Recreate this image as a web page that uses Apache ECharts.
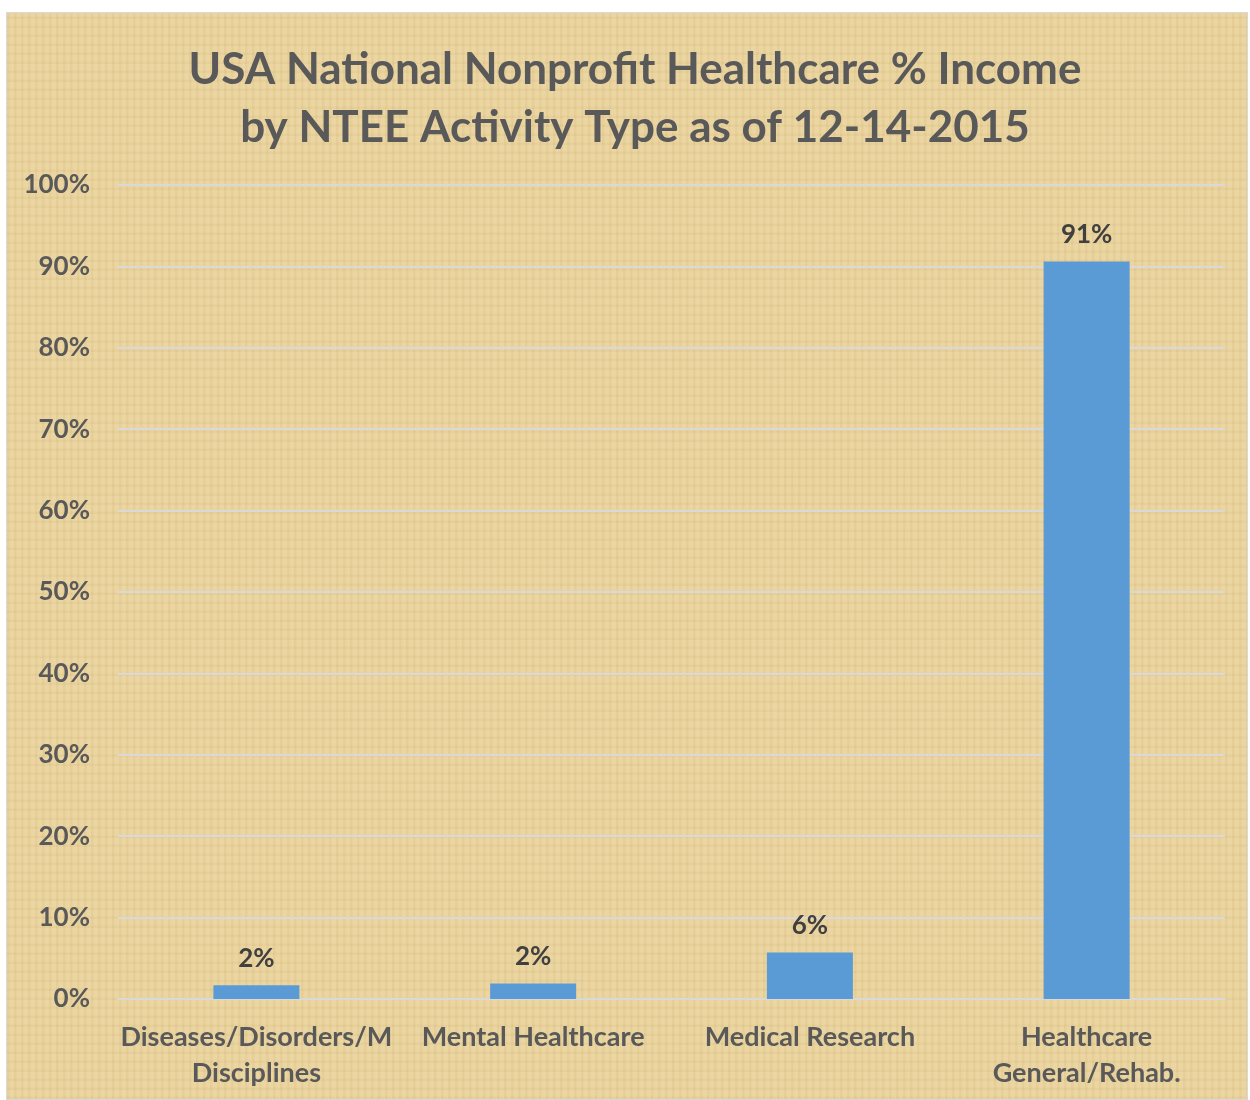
<!DOCTYPE html>
<html>
<head>
<meta charset="utf-8">
<script src="https://cdn.jsdelivr.net/npm/echarts@6/dist/echarts.min.js"></script>
<style>
html,body{margin:0;padding:0;background:#fff;}
#frame{position:absolute;left:6px;top:12px;width:1242px;height:1088px;border:1px solid #d9d9d9;box-sizing:border-box;
background-color:#E9D29C;
background-image:
 repeating-linear-gradient(90deg, rgba(160,120,40,0.06) 0px, rgba(160,120,40,0.06) 2px, rgba(255,245,215,0.06) 3px, rgba(255,245,215,0.06) 7px),
 repeating-linear-gradient(0deg, rgba(160,120,40,0.05) 0px, rgba(160,120,40,0.05) 2px, rgba(255,245,215,0.05) 3px, rgba(255,245,215,0.05) 9px);}
#chart{position:absolute;left:0;top:0;width:1250px;height:1100px;}
</style>
</head>
<body>
<div id="frame"></div>
<div id="chart"></div>
<script>
const categories = ["Diseases/Disorders/M\nDisciplines", "Mental Healthcare", "Medical Research", "Healthcare\nGeneral/Rehab."];
const values = [1.7, 1.9, 5.7, 90.6];
const valueLabels = ["2%", "2%", "6%", "91%"];
const titleLines = ["USA National Nonprofit Healthcare % Income", "by NTEE Activity Type as of 12-14-2015"];

const chart = echarts.init(document.getElementById('chart'), null, {renderer:'canvas'});
const font = 'Lato, "Open Sans", sans-serif';
chart.setOption({
  backgroundColor: 'transparent',
  animation: false,
  title: {
    text: titleLines.join('\n'),
    left: 630, top: 36, textAlign: 'center',
    textStyle: {fontFamily: font, fontWeight: 'bold', fontSize: 44, color: '#595959', lineHeight: 58}
  },
  grid: {left: 118, right: 25, top: 185, bottom: 101},
  xAxis: {
    type: 'category', data: categories,
    axisTick: {show: false},
    axisLine: {show: true, lineStyle: {color: '#d9d9d9', width: 2}},
    axisLabel: {fontFamily: font, fontWeight: 'bold', fontSize: 27, color: '#595959', lineHeight: 36, margin: 20, interval: 0}
  },
  yAxis: {
    type: 'value', min: 0, max: 100, interval: 10,
    axisLine: {show: false}, axisTick: {show: false},
    splitLine: {lineStyle: {color: '#d9d9d9', width: 2}},
    axisLabel: {formatter: '{value}%', fontFamily: font, fontWeight: 'bold', fontSize: 26, color: '#595959', margin: 28}
  },
  series: [{
    type: 'bar', data: values, barWidth: 86,
    itemStyle: {color: '#5B9BD5'},
    label: {show: true, position: 'top', distance: 14,
      formatter: p => valueLabels[p.dataIndex],
      fontFamily: font, fontWeight: 'bold', fontSize: 26, color: '#404040'}
  }]
});
</script>
</body>
</html>
